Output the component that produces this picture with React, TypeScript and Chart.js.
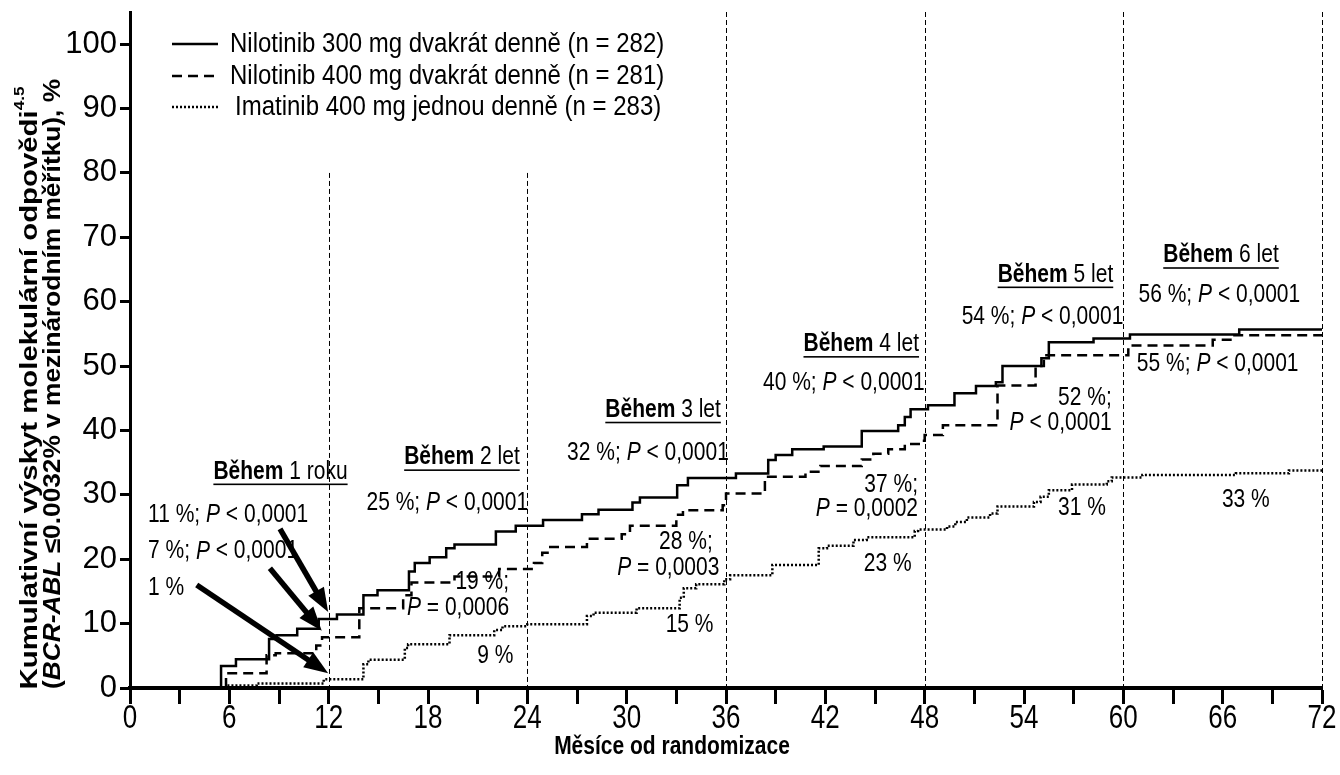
import React, { useEffect, useRef } from "react";
import { Chart, registerables } from "chart.js";

Chart.register(...registerables);

// ---------- data ----------
const N300_MONTHS = [0, 5.5, 6.4, 8.4, 8.85, 10.1, 11.4, 12.5, 14.1, 14.95, 16.85, 17.2, 18.1, 19.1, 19.6, 22.1, 23.3, 24.95, 27.3, 28.3, 30.35, 30.8, 33.05, 33.7, 36.6, 38.55, 39.0, 40.0, 41.9, 44.2, 46.4, 46.8, 47.15, 48.2, 49.8, 51.1, 52.3, 52.7, 55.05, 55.5, 58.2, 60.4, 67.0, 72];
const N300_PCT = [0, 3.4, 4.45, 7.6, 8.2, 9.2, 10.7, 11.4, 14.4, 15.2, 18.1, 19.4, 20.3, 21.7, 22.3, 24.3, 25.2, 26.1, 27.0, 27.7, 28.8, 29.6, 31.5, 32.6, 33.3, 35.4, 36.2, 37.1, 37.5, 39.9, 40.8, 42.1, 43.3, 43.9, 45.8, 46.9, 47.5, 50.0, 51.2, 53.7, 54.3, 54.9, 55.7, 55.7];

const N400_MONTHS = [0, 5.8, 8.25, 8.8, 11.25, 11.6, 13.85, 16.5, 17.0, 19.6, 22.3, 24.4, 24.9, 25.3, 27.6, 29.7, 30.2, 33.0, 33.4, 35.8, 36.0, 38.35, 40.8, 41.7, 44.2, 44.9, 45.8, 46.8, 47.8, 48.0, 49.1, 52.4, 54.7, 55.2, 60.3, 65.4, 66.6, 72];
const N400_PCT = [0, 2.3, 5.1, 5.4, 6.6, 7.9, 12.4, 14.4, 16.4, 17.3, 18.5, 19.4, 21.0, 21.9, 23.2, 23.9, 25.2, 26.9, 27.6, 28.4, 30.2, 32.8, 33.6, 34.5, 35.5, 36.4, 37.1, 37.9, 38.4, 39.3, 40.8, 47.0, 50.0, 51.7, 53.2, 54.1, 54.8, 54.8];

const IMA_MONTHS = [0, 5.8, 7.65, 11.7, 14.1, 14.4, 16.6, 16.8, 19.3, 22.0, 22.5, 24.0, 27.6, 28.0, 30.6, 33.2, 33.45, 34.2, 35.9, 36.25, 38.8, 41.6, 42.1, 43.7, 44.5, 47.4, 47.6, 49.35, 49.85, 50.55, 51.95, 52.4, 54.6, 55.0, 55.5, 56.9, 59.0, 59.3, 61.15, 66.8, 70.0, 72];
const IMA_PCT = [0, 0.4, 0.7, 1.35, 3.7, 4.4, 6.2, 6.8, 8.2, 9.0, 9.6, 9.9, 11.2, 11.7, 12.4, 14.0, 15.5, 16.1, 16.9, 17.5, 19.1, 21.7, 22.1, 23.0, 23.4, 24.4, 24.6, 25.1, 25.8, 26.5, 27.1, 28.2, 28.9, 29.7, 30.7, 31.6, 32.1, 32.7, 33.1, 33.35, 33.8, 33.8];

const SERIES_LABELS = [
  "Nilotinib 300 mg dvakrát denně (n = 282)",
  "Nilotinib 400 mg dvakrát denně (n = 281)",
  "Imatinib 400 mg jednou denně (n = 283)",
];

const X_MIN = 0;
const X_MAX = 72;
const X_STEP = 3;
const X_LABEL_EVERY = 6;
const Y_MIN = 0;
const Y_MAX = 105;
const Y_STEP = 10;

const GUIDE_MONTHS = [12, 24, 36, 48, 60, 72];
const GUIDE_TOPS = [80, 80, 105, 105, 105, 105];

const X_TITLE = "Měsíce od randomizace";

type Run = { t: string; b?: boolean; i?: boolean; sup?: boolean };
type Align = "left" | "center" | "right";
type Note = { x: number; y: number; align: Align; runs: Run[]; underline?: boolean };

const pv = (pct: string): Run[] => [{ t: pct + " " }, { t: "P", i: true }, { t: " < 0,0001" }];

const NOTES: Note[] = [
  { x: 9.09, y: 33.6, align: "center", underline: true, runs: [{ t: "Během", b: true }, { t: " 1 roku" }] },
  { x: 1.09, y: 26.9, align: "left", runs: pv("11 %;") },
  { x: 1.09, y: 21.2, align: "left", runs: pv("7 %;") },
  { x: 1.09, y: 15.5, align: "left", runs: [{ t: "1 %" }] },
  { x: 20.05, y: 35.8, align: "center", underline: true, runs: [{ t: "Během", b: true }, { t: " 2 let" }] },
  { x: 24.05, y: 28.8, align: "right", runs: pv("25 %;") },
  { x: 22.9, y: 16.5, align: "right", runs: [{ t: "19 %;" }] },
  { x: 22.9, y: 12.4, align: "right", runs: [{ t: "P", i: true }, { t: " = 0,0006" }] },
  { x: 22.07, y: 5.0, align: "center", runs: [{ t: "9 %" }] },
  { x: 32.2, y: 43.2, align: "center", underline: true, runs: [{ t: "Během", b: true }, { t: " 3 let" }] },
  { x: 36.17, y: 36.5, align: "right", runs: pv("32 %;") },
  { x: 35.2, y: 22.6, align: "right", runs: [{ t: "28 %;" }] },
  { x: 35.6, y: 18.6, align: "right", runs: [{ t: "P", i: true }, { t: " = 0,0003" }] },
  { x: 33.8, y: 9.8, align: "center", runs: [{ t: "15 %" }] },
  { x: 44.17, y: 53.4, align: "center", underline: true, runs: [{ t: "Během", b: true }, { t: " 4 let" }] },
  { x: 48.0, y: 47.3, align: "right", runs: pv("40 %;") },
  { x: 47.6, y: 31.5, align: "right", runs: [{ t: "37 %;" }] },
  { x: 47.6, y: 27.8, align: "right", runs: [{ t: "P", i: true }, { t: " = 0,0002" }] },
  { x: 45.77, y: 19.25, align: "center", runs: [{ t: "23 %" }] },
  { x: 55.9, y: 64.2, align: "center", underline: true, runs: [{ t: "Během", b: true }, { t: " 5 let" }] },
  { x: 60.0, y: 57.65, align: "right", runs: pv("54 %;") },
  { x: 59.3, y: 45.0, align: "right", runs: [{ t: "52 %;" }] },
  { x: 59.3, y: 41.2, align: "right", runs: [{ t: "P", i: true }, { t: " < 0,0001" }] },
  { x: 57.5, y: 27.9, align: "center", runs: [{ t: "31 %" }] },
  { x: 65.9, y: 67.2, align: "center", underline: true, runs: [{ t: "Během", b: true }, { t: " 6 let" }] },
  { x: 65.8, y: 61.0, align: "center", runs: pv("56 %;") },
  { x: 65.7, y: 50.3, align: "center", runs: pv("55 %;") },
  { x: 67.4, y: 29.2, align: "center", runs: [{ t: "33 %" }] },
];

const ARROWS = [
  { from: [9.06, 24.7], to: [11.97, 11.8] },
  { from: [8.45, 18.6], to: [11.58, 8.9] },
  { from: [4.03, 16.0], to: [11.97, 2.3] },
];

const Y_TITLE_1: Run[] = [{ t: "Kumulativní výskyt molekulární odpovědi", b: true }, { t: "4.5", b: true, sup: true }];
const Y_TITLE_2: Run[] = [
  { t: "(", b: true },
  { t: "BCR-ABL", b: true, i: true },
  { t: " ≤0.0032% v mezinárodním měřítku), %", b: true },
];

// ---------- drawing helpers ----------
const FAMILY = 'Arial, "Liberation Sans", sans-serif';
const fontOf = (r: Run, size: number) =>
  `${r.i ? "italic " : ""}${r.b ? "bold " : ""}${r.sup ? Math.round(size * 0.6) : size}px ${FAMILY}`;

function measureRuns(ctx: CanvasRenderingContext2D, runs: Run[], size: number) {
  return runs.map((r) => {
    ctx.font = fontOf(r, size);
    return ctx.measureText(r.t).width;
  });
}

function drawRuns(
  ctx: CanvasRenderingContext2D,
  runs: Run[],
  x: number,
  y: number,
  align: Align,
  size: number,
  opts: { underline?: boolean; sx?: number; sy?: number; fitWidth?: number } = {}
) {
  const widths = measureRuns(ctx, runs, size);
  const total = widths.reduce((a, b) => a + b, 0);
  const sx = opts.fitWidth ? opts.fitWidth / total : opts.sx ?? 1;
  const sy = opts.sy ?? 1;
  ctx.save();
  ctx.translate(x, y);
  ctx.scale(sx, sy);
  let cx = align === "left" ? 0 : align === "center" ? -total / 2 : -total;
  const start = cx;
  ctx.textAlign = "left";
  ctx.textBaseline = "middle";
  ctx.fillStyle = "#000";
  runs.forEach((r, k) => {
    ctx.font = fontOf(r, size);
    ctx.fillText(r.t, cx, r.sup ? -size * 0.4 : 0);
    cx += widths[k];
  });
  if (opts.underline) {
    ctx.fillRect(start, size * 0.47, total, 1.6 / sy);
  }
  ctx.restore();
}

function drawArrow(ctx: CanvasRenderingContext2D, x1: number, y1: number, x2: number, y2: number) {
  const a = Math.atan2(y2 - y1, x2 - x1);
  const headLen = 24;
  const headW = 9;
  const bx = x2 - headLen * Math.cos(a);
  const by = y2 - headLen * Math.sin(a);
  ctx.save();
  ctx.strokeStyle = "#000";
  ctx.fillStyle = "#000";
  ctx.lineWidth = 5.5;
  ctx.setLineDash([]);
  ctx.beginPath();
  ctx.moveTo(x1, y1);
  ctx.lineTo(bx + 2 * Math.cos(a), by + 2 * Math.sin(a));
  ctx.stroke();
  ctx.beginPath();
  ctx.moveTo(x2, y2);
  ctx.lineTo(bx + headW * Math.sin(a), by - headW * Math.cos(a));
  ctx.lineTo(bx - headW * Math.sin(a), by + headW * Math.cos(a));
  ctx.closePath();
  ctx.fill();
  ctx.restore();
}

const TEXT_SY = 1.2;

const guidePlugin = {
  id: "guides",
  beforeDatasetsDraw(chart: any) {
    const { ctx, scales } = chart;
    const xs = scales.x;
    const ys = scales.y;
    ctx.save();
    ctx.strokeStyle = "#000";
    ctx.lineWidth = 1;
    ctx.setLineDash([5, 3]);
    GUIDE_MONTHS.forEach((m, k) => {
      const px = Math.round(xs.getPixelForValue(m)) + 0.5;
      ctx.beginPath();
      ctx.moveTo(px, ys.getPixelForValue(GUIDE_TOPS[k]));
      ctx.lineTo(px, ys.getPixelForValue(0));
      ctx.stroke();
    });
    ctx.restore();
  },
};

const notesPlugin = {
  id: "notes",
  afterDatasetsDraw(chart: any) {
    const { ctx, scales } = chart;
    const xs = scales.x;
    const ys = scales.y;
    ctx.save();
    NOTES.forEach((n) => {
      drawRuns(ctx, n.runs, xs.getPixelForValue(n.x), ys.getPixelForValue(n.y), n.align, 21, {
        underline: !!n.underline,
        sy: TEXT_SY,
      });
    });
    ARROWS.forEach((a) => {
      drawArrow(
        ctx,
        xs.getPixelForValue(a.from[0]),
        ys.getPixelForValue(a.from[1]),
        xs.getPixelForValue(a.to[0]),
        ys.getPixelForValue(a.to[1])
      );
    });
    ctx.restore();
  },
  afterDraw(chart: any) {
    const { ctx, scales } = chart;
    const xs = scales.x;
    ctx.save();
    // x tick labels (from the scale's own ticks)
    xs.ticks.forEach((tk: any) => {
      if (tk.value % X_LABEL_EVERY !== 0) return;
      drawRuns(ctx, [{ t: String(tk.value) }], xs.getPixelForValue(tk.value), 719, "center", 26, { sy: 1.28 });
    });
    // legend
    const dashes = [[], [10, 6], [2, 2]];
    const ly = [44, 76, 107];
    SERIES_LABELS.forEach((lab, k) => {
      ctx.strokeStyle = "#000";
      ctx.lineWidth = 2.5;
      ctx.setLineDash(dashes[k]);
      ctx.beginPath();
      ctx.moveTo(172, ly[k]);
      ctx.lineTo(218, ly[k]);
      ctx.stroke();
      ctx.setLineDash([]);
      drawRuns(ctx, [{ t: lab }], k === 2 ? 235 : 230, ly[k], "left", 24, { sy: 1.15 });
    });
    // y title (two rotated lines)
    ctx.save();
    ctx.translate(30, 388);
    ctx.rotate(-Math.PI / 2);
    drawRuns(ctx, Y_TITLE_1, 0, 0, "center", 24, { fitWidth: 603 });
    ctx.restore();
    ctx.save();
    ctx.translate(53, 384);
    ctx.rotate(-Math.PI / 2);
    drawRuns(ctx, Y_TITLE_2, 0, 0, "center", 24, { fitWidth: 610 });
    ctx.restore();
    // x title
    drawRuns(ctx, [{ t: X_TITLE, b: true }], 672, 747, "center", 21, { sy: 1.2 });
    ctx.restore();
  },
};

const toPoints = (xs: number[], ys: number[]) => xs.map((x, i) => ({ x, y: ys[i] }));

export default function App() {
  const ref = useRef<HTMLCanvasElement | null>(null);
  useEffect(() => {
    if (!ref.current) return;
    const base = {
      borderColor: "#000",
      backgroundColor: "#000",
      borderWidth: 2.5,
      pointRadius: 0,
      stepped: true as const,
      fill: false,
      tension: 0,
      borderCapStyle: "butt" as const,
    };
    const chart = new Chart(ref.current, {
      type: "line",
      data: {
        datasets: [
          { ...base, label: SERIES_LABELS[0], data: toPoints(N300_MONTHS, N300_PCT) },
          { ...base, label: SERIES_LABELS[1], data: toPoints(N400_MONTHS, N400_PCT), borderDash: [10, 6] },
          { ...base, label: SERIES_LABELS[2], data: toPoints(IMA_MONTHS, IMA_PCT), borderDash: [2, 2] },
        ],
      },
      options: {
        animation: false,
        responsive: false,
        layout: { padding: { top: 12, right: 18, left: 0, bottom: 0 } },
        plugins: { legend: { display: false }, tooltip: { enabled: false } },
        scales: {
          x: {
            type: "linear",
            min: X_MIN,
            max: X_MAX,
            grid: { drawOnChartArea: false, drawTicks: true, tickLength: 16, tickWidth: 3, tickColor: "#000" },
            border: { display: true, width: 4, color: "#000" },
            ticks: {
              display: false,
              stepSize: X_STEP,
              autoSkip: false,
              maxRotation: 0,
            },
            afterFit: (s: any) => {
              s.height = 87;
              s.paddingLeft = 0;
              s.paddingRight = 0;
            },
          },
          y: {
            type: "linear",
            min: Y_MIN,
            max: Y_MAX,
            grid: { drawOnChartArea: false, drawTicks: true, tickLength: 10, tickWidth: 3, tickColor: "#000" },
            border: { display: true, width: 3, color: "#000" },
            ticks: {
              stepSize: Y_STEP,
              includeBounds: false,
              padding: 3,
              color: "#000",
              font: { family: FAMILY, size: 31 },
            },
            afterFit: (s: any) => {
              s.width = 130;
              s.paddingTop = 0;
              s.paddingBottom = 0;
            },
          },
        },
      },
      plugins: [guidePlugin, notesPlugin],
    });
    return () => chart.destroy();
  }, []);
  return (
    <div style={{ position: "fixed", left: 0, top: 0, width: 1340, height: 775, background: "#fff" }}>
      <canvas ref={ref} width={1340} height={775} />
    </div>
  );
}
